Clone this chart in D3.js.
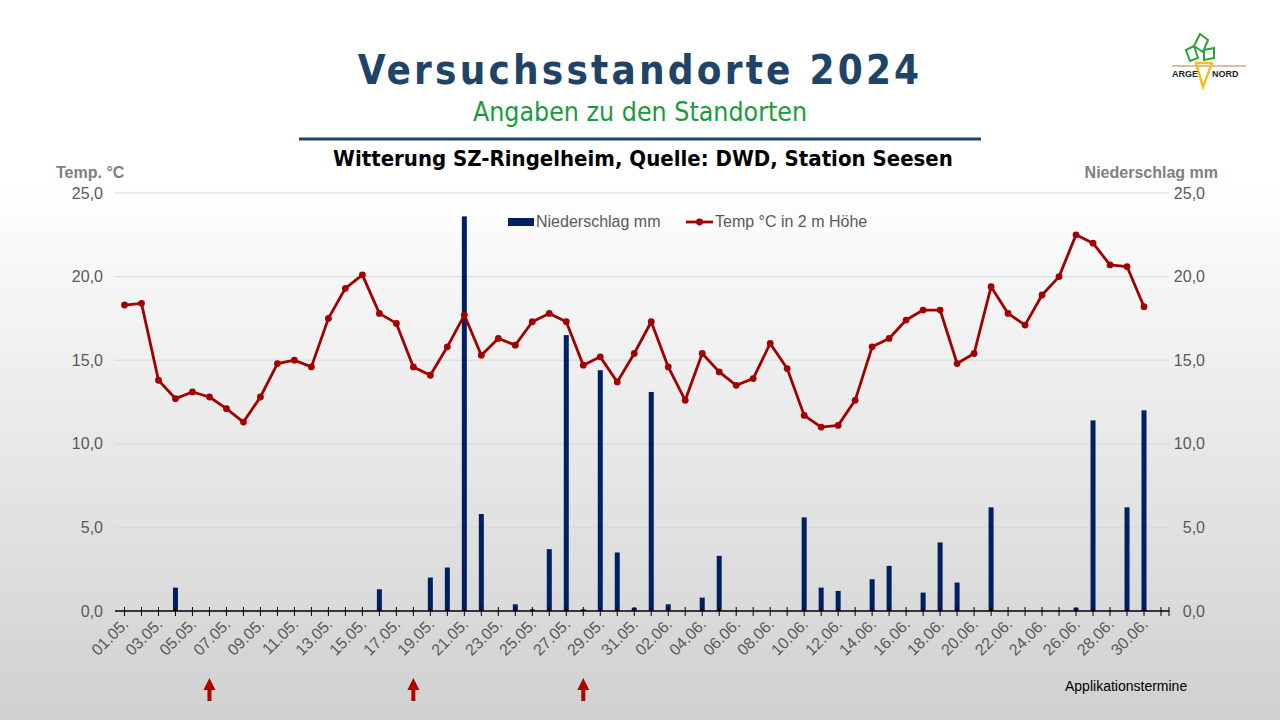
<!DOCTYPE html>
<html>
<head>
<meta charset="utf-8">
<script src="https://cdn.jsdelivr.net/npm/d3@7"></script>
<style>
  body { margin: 0; }
  svg { display: block; font-family: "Liberation Sans", Arial, sans-serif; }
  .hd { font-family: "DejaVu Sans Condensed", "DejaVu Sans", sans-serif; font-stretch: condensed; }
</style>
</head>
<body>
<div id="chart"></div>
<script>
// dates 01.05. - 30.06.2024
var days = [];
d3.range(1, 32).forEach(function(d) { days.push(d3.format("02")(d) + ".05."); });
d3.range(1, 31).forEach(function(d) { days.push(d3.format("02")(d) + ".06."); });

var temp = [18.3, 18.4, 13.8, 12.7, 13.1, 12.8, 12.1, 11.3, 12.8, 14.8,
            15.0, 14.6, 17.5, 19.3, 20.1, 17.8, 17.2, 14.6, 14.1, 15.8,
            17.7, 15.3, 16.3, 15.9, 17.3, 17.8, 17.3, 14.7, 15.2, 13.7,
            15.4, 17.3, 14.6, 12.6, 15.4, 14.3, 13.5, 13.9, 16.0, 14.5,
            11.7, 11.0, 11.1, 12.6, 15.8, 16.3, 17.4, 18.0, 18.0, 14.8,
            15.4, 19.4, 17.8, 17.1, 18.9, 20.0, 22.5, 22.0, 20.7, 20.6, 18.2];

var rain = [0, 0, 0, 1.4, 0, 0, 0, 0, 0, 0,
            0, 0, 0, 0, 0, 1.3, 0, 0, 2.0, 2.6,
            23.6, 5.8, 0, 0.4, 0.1, 3.7, 16.5, 0.1, 14.4, 3.5,
            0.2, 13.1, 0.4, 0, 0.8, 3.3, 0, 0, 0, 0,
            5.6, 1.4, 1.2, 0, 1.9, 2.7, 0, 1.1, 4.1, 1.7,
            0, 6.2, 0, 0, 0, 0, 0.2, 11.4, 0, 6.2, 12.0];

var appDates = ["06.05.", "18.05.", "28.05."];
var yTicks = [0, 5, 10, 15, 20, 25];

var width = 1280, height = 720;

var svg = d3.select("#chart").append("svg")
    .attr("width", width)
    .attr("height", height);

// background gradient
var defs = svg.append("defs");
var grad = defs.append("linearGradient")
    .attr("id", "bg")
    .attr("x1", 0).attr("y1", 0).attr("x2", 0).attr("y2", 1);
grad.append("stop").attr("offset", "0%").attr("stop-color", "#ffffff");
grad.append("stop").attr("offset", "25%").attr("stop-color", "#ffffff");
grad.append("stop").attr("offset", "100%").attr("stop-color", "#d0d0d0");

svg.append("rect")
    .attr("width", width)
    .attr("height", height)
    .attr("fill", "url(#bg)");

// header
svg.append("text")
    .attr("class", "hd")
    .attr("x", 640).attr("y", 84)
    .attr("text-anchor", "middle")
    .attr("fill", "#1f4468")
    .attr("font-size", 40)
    .attr("font-weight", "bold")
    .attr("letter-spacing", 3.2)
    .text("Versuchsstandorte 2024");

svg.append("text")
    .attr("class", "hd")
    .attr("x", 640).attr("y", 121)
    .attr("text-anchor", "middle")
    .attr("fill", "#1a9a3c")
    .attr("font-size", 26.5)
    .text("Angaben zu den Standorten");

svg.append("line")
    .attr("x1", 299).attr("x2", 981)
    .attr("y1", 139).attr("y2", 139)
    .attr("stroke", "#1f4468")
    .attr("stroke-width", 3);

svg.append("text")
    .attr("class", "hd")
    .attr("x", 643).attr("y", 166)
    .attr("text-anchor", "middle")
    .attr("fill", "#000")
    .attr("font-size", 22)
    .attr("font-weight", "bold")
    .text("Witterung SZ-Ringelheim, Quelle: DWD, Station Seesen");

// logo (small stylised beet)
var logo = svg.append("g").attr("transform", "translate(1170, 30)");
logo.append("path")
    .attr("d", "M24 16 L30 4 L38 10 L33 22 Z M16 20 L24 16 L28 28 L20 31 Z M34 20 L44 18 L44 28 L34 30 Z")
    .attr("fill", "none")
    .attr("stroke", "#2aa33a")
    .attr("stroke-width", 2);
logo.append("line")
    .attr("x1", 2).attr("x2", 76).attr("y1", 36).attr("y2", 36)
    .attr("stroke", "#c07a40").attr("stroke-width", 1);
logo.append("path")
    .attr("d", "M26 33 L42 33 L33 57 Z")
    .attr("fill", "none")
    .attr("stroke", "#f3c21a")
    .attr("stroke-width", 2.5);
logo.append("text")
    .attr("x", 2).attr("y", 47)
    .attr("font-size", 9).attr("font-weight", "bold").attr("fill", "#222")
    .text("ARGE");
logo.append("text")
    .attr("x", 42).attr("y", 47)
    .attr("font-size", 9).attr("font-weight", "bold").attr("fill", "#222")
    .text("NORD");

// scales
var x = d3.scalePoint()
    .domain(d3.range(days.length + 1))
    .range([124.5, 1161]);

var y = d3.scaleLinear()
    .domain([0, 25])
    .range([611, 193]);

var fmt = function(d) { return d3.format(".1f")(d).replace(".", ","); };

// gridlines
svg.append("g").selectAll("line")
    .data(yTicks.slice(1))
    .enter().append("line")
    .attr("x1", 115).attr("x2", 1169)
    .attr("y1", function(d) { return y(d); })
    .attr("y2", function(d) { return y(d); })
    .attr("stroke", "#d9d9d9")
    .attr("stroke-width", 1);

// left axis labels
svg.append("g").selectAll("text")
    .data(yTicks)
    .enter().append("text")
    .attr("x", 103)
    .attr("y", function(d) { return y(d) + 5.5; })
    .attr("text-anchor", "end")
    .attr("font-size", 16)
    .attr("fill", "#595959")
    .text(fmt);

// right axis labels
svg.append("g").selectAll("text")
    .data(yTicks)
    .enter().append("text")
    .attr("x", 1205)
    .attr("y", function(d) { return y(d) + 5.5; })
    .attr("text-anchor", "end")
    .attr("font-size", 16)
    .attr("fill", "#595959")
    .text(fmt);

svg.append("text")
    .attr("x", 56).attr("y", 178)
    .attr("font-size", 16).attr("font-weight", "bold").attr("fill", "#7f7f7f")
    .text("Temp. °C");

svg.append("text")
    .attr("x", 1218).attr("y", 178)
    .attr("text-anchor", "end")
    .attr("font-size", 16).attr("font-weight", "bold").attr("fill", "#7f7f7f")
    .text("Niederschlag mm");

// bars
svg.append("g").selectAll("rect")
    .data(rain)
    .enter().append("rect")
    .attr("x", function(d, i) { return x(i) - 2.5; })
    .attr("width", 5)
    .attr("y", function(d) { return y(d); })
    .attr("height", function(d) { return y(0) - y(d); })
    .attr("fill", "#00205f");

// x axis
var xAxis = svg.append("g");
xAxis.append("line")
    .attr("x1", 115).attr("x2", 1169)
    .attr("y1", y(0)).attr("y2", y(0))
    .attr("stroke", "#000").attr("stroke-width", 1.3);
xAxis.selectAll(".tick")
    .data(x.domain())
    .enter().append("line")
    .attr("class", "tick")
    .attr("x1", function(d) { return x(d); })
    .attr("x2", function(d) { return x(d); })
    .attr("y1", y(0) - 4).attr("y2", y(0) + 5)
    .attr("stroke", "#000").attr("stroke-width", 1);
xAxis.append("line")
    .attr("x1", 1169).attr("x2", 1169)
    .attr("y1", y(0) - 4).attr("y2", y(0) + 5)
    .attr("stroke", "#000");

xAxis.selectAll(".lbl")
    .data(days.filter(function(d, i) { return i % 2 === 0; }))
    .enter().append("text")
    .attr("class", "lbl")
    .attr("transform", function(d) {
        return "translate(" + (x(days.indexOf(d)) + 5) + "," + (y(0) + 14) + ") rotate(-45)";
    })
    .attr("text-anchor", "end")
    .attr("font-size", 16)
    .attr("fill", "#595959")
    .text(function(d) { return d; });

// temperature line
var line = d3.line()
    .x(function(d, i) { return x(i); })
    .y(function(d) { return y(d); });

svg.append("path")
    .datum(temp)
    .attr("d", line)
    .attr("fill", "none")
    .attr("stroke", "#a00000")
    .attr("stroke-width", 2.8)
    .attr("stroke-linejoin", "round");

svg.append("g").selectAll("circle")
    .data(temp)
    .enter().append("circle")
    .attr("cx", function(d, i) { return x(i); })
    .attr("cy", function(d) { return y(d); })
    .attr("r", 3.4)
    .attr("fill", "#a00000");

// legend
var legend = svg.append("g");
legend.append("rect")
    .attr("x", 508).attr("y", 218)
    .attr("width", 26).attr("height", 8)
    .attr("fill", "#00205f");
legend.append("text")
    .attr("x", 536).attr("y", 227)
    .attr("font-size", 16).attr("fill", "#595959")
    .text("Niederschlag mm");
legend.append("line")
    .attr("x1", 686).attr("x2", 713)
    .attr("y1", 222).attr("y2", 222)
    .attr("stroke", "#a00000").attr("stroke-width", 2.8);
legend.append("circle")
    .attr("cx", 699.5).attr("cy", 222).attr("r", 3.4)
    .attr("fill", "#a00000");
legend.append("text")
    .attr("x", 715).attr("y", 227)
    .attr("font-size", 16).attr("fill", "#595959")
    .text("Temp °C in 2 m Höhe");

// application dates
var arrows = svg.append("g").selectAll("g")
    .data(appDates)
    .enter().append("g")
    .attr("transform", function(d) { return "translate(" + x(days.indexOf(d)) + ",0)"; });
arrows.append("path")
    .attr("d", "M0 678 L6 690 L2 690 L2 701 L-2 701 L-2 690 L-6 690 Z")
    .attr("fill", "#b00000");

svg.append("text")
    .attr("x", 1065).attr("y", 691)
    .attr("font-size", 14).attr("fill", "#000")
    .text("Applikationstermine");
</script>
</body>
</html>
